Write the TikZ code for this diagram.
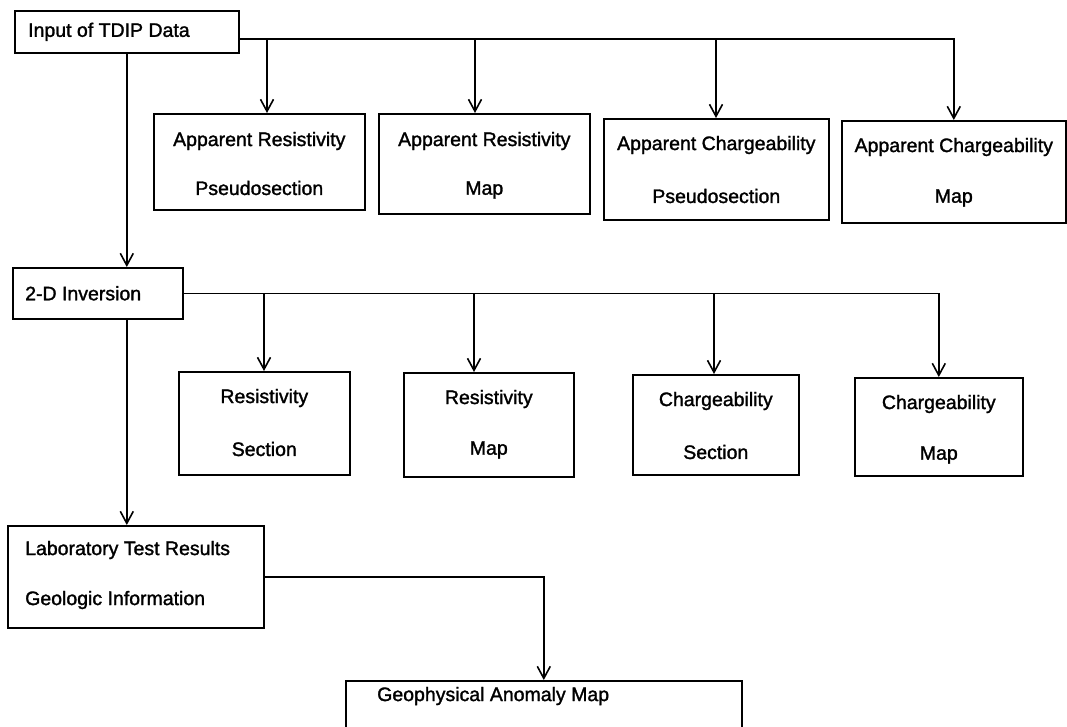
\documentclass[tikz,border=0pt]{standalone}
\usepackage{fontspec}
\setmainfont{Liberation Sans}
\newfontfamily\boxfont[FakeBold=1.5]{Liberation Sans}
\usetikzlibrary{arrows.meta}
\begin{document}
\begin{tikzpicture}[x=1pt,y=-1pt,
  boxst/.style={draw, line width=1.6pt, inner sep=0pt, anchor=north west},
  txt/.style={font=\boxfont\fontsize{19.5}{22}\selectfont, inner sep=0pt},
  conn/.style={line width=1.6pt},
  arr/.style={conn, -{Straight Barb[length=12pt,width=13pt,line width=1.6pt]}}
]
\useasboundingbox (0,0) rectangle (1067,726);
\clip (0,0) rectangle (1067,726);

% boxes
\node[boxst, minimum width=224pt, minimum height=42pt] (in) at (14,10) {};
\node[boxst, minimum width=211pt, minimum height=96pt] (b1) at (153,113) {};
\node[boxst, minimum width=211pt, minimum height=100pt] (b2) at (378,113) {};
\node[boxst, minimum width=225pt, minimum height=101pt] (b3) at (603,118) {};
\node[boxst, minimum width=224pt, minimum height=102pt] (b4) at (841,120) {};
\node[boxst, minimum width=170pt, minimum height=51pt] (inv) at (12,267) {};
\node[boxst, minimum width=171pt, minimum height=103pt] (rs) at (178,371) {};
\node[boxst, minimum width=170pt, minimum height=104pt] (rm) at (403,372) {};
\node[boxst, minimum width=166pt, minimum height=100pt] (cs) at (632,374) {};
\node[boxst, minimum width=168pt, minimum height=98pt] (cm) at (854,377) {};
\node[boxst, minimum width=256pt, minimum height=102pt] (lab) at (7,525) {};
\node[boxst, minimum width=396pt, minimum height=80pt] (geo) at (345,680) {};

% texts
\node[txt, anchor=west] (tin) at ([xshift=14pt]in.west) {Input of TDIP Data};
\node[txt] (t1a) at ([yshift=-28pt]b1.north) {Apparent Resistivity};
\node[txt] (t1b) at ([yshift=-75pt]b1.north) {Pseudosection};
\node[txt] (t2a) at ([yshift=-28pt]b2.north) {Apparent Resistivity};
\node[txt] (t2b) at ([yshift=-77pt]b2.north) {Map};
\node[txt] (t3a) at ([yshift=-27pt]b3.north) {Apparent Chargeability};
\node[txt] (t3b) at ([yshift=-78pt]b3.north) {Pseudosection};
\node[txt] (t4a) at ([yshift=-27pt]b4.north) {Apparent Chargeability};
\node[txt] (t4b) at ([yshift=-78pt]b4.north) {Map};
\node[txt, anchor=west] (tinv) at ([xshift=13pt]inv.west) {2-D Inversion};
\node[txt] (rsa) at ([yshift=-27pt]rs.north) {Resistivity};
\node[txt] (rsb) at ([yshift=-78pt]rs.north) {Section};
\node[txt] (rma) at ([yshift=-27pt]rm.north) {Resistivity};
\node[txt] (rmb) at ([yshift=-78pt]rm.north) {Map};
\node[txt] (csa) at ([yshift=-27pt]cs.north) {Chargeability};
\node[txt] (csb) at ([yshift=-78pt]cs.north) {Section};
\node[txt] (cma) at ([yshift=-27pt]cm.north) {Chargeability};
\node[txt] (cmb) at ([yshift=-78pt]cm.north) {Map};
\node[txt, anchor=west] (laba) at ([xshift=18pt,yshift=-25pt]lab.north west) {Laboratory Test Results};
\node[txt, anchor=west] (labb) at ([xshift=18pt,yshift=-75pt]lab.north west) {Geologic Information};
\node[txt, anchor=west] (geoa) at ([xshift=32pt,yshift=-16pt]geo.north west) {Geophysical Anomaly Map};

% branch points
\coordinate (a1) at (267,39);
\coordinate (a2) at (475,39);
\coordinate (a3) at (716,39);
\coordinate (c1) at (264,293);
\coordinate (c2) at (474,293);
\coordinate (c3) at (714,293);

% connectors
\draw[arr] ([yshift=-7pt]in.east) -| (b4.north);
\draw[arr] (a1) -- (a1 |- b1.north);
\draw[arr] (a2) -- (a2 |- b2.north);
\draw[arr] (a3) -- (a3 |- b3.north);
\draw[arr] (in.south) -- (in.south |- inv.north);
\draw[arr] (inv.east) -| (cm.north);
\draw[arr] (c1) -- (c1 |- rs.north);
\draw[arr] (c2) -- (c2 |- rm.north);
\draw[arr] (c3) -- (c3 |- cs.north);
\draw[arr] (in.south |- inv.south) -- (in.south |- lab.north);
\draw[arr] (lab.east) -| (geo.north);
\end{tikzpicture}
\end{document}
